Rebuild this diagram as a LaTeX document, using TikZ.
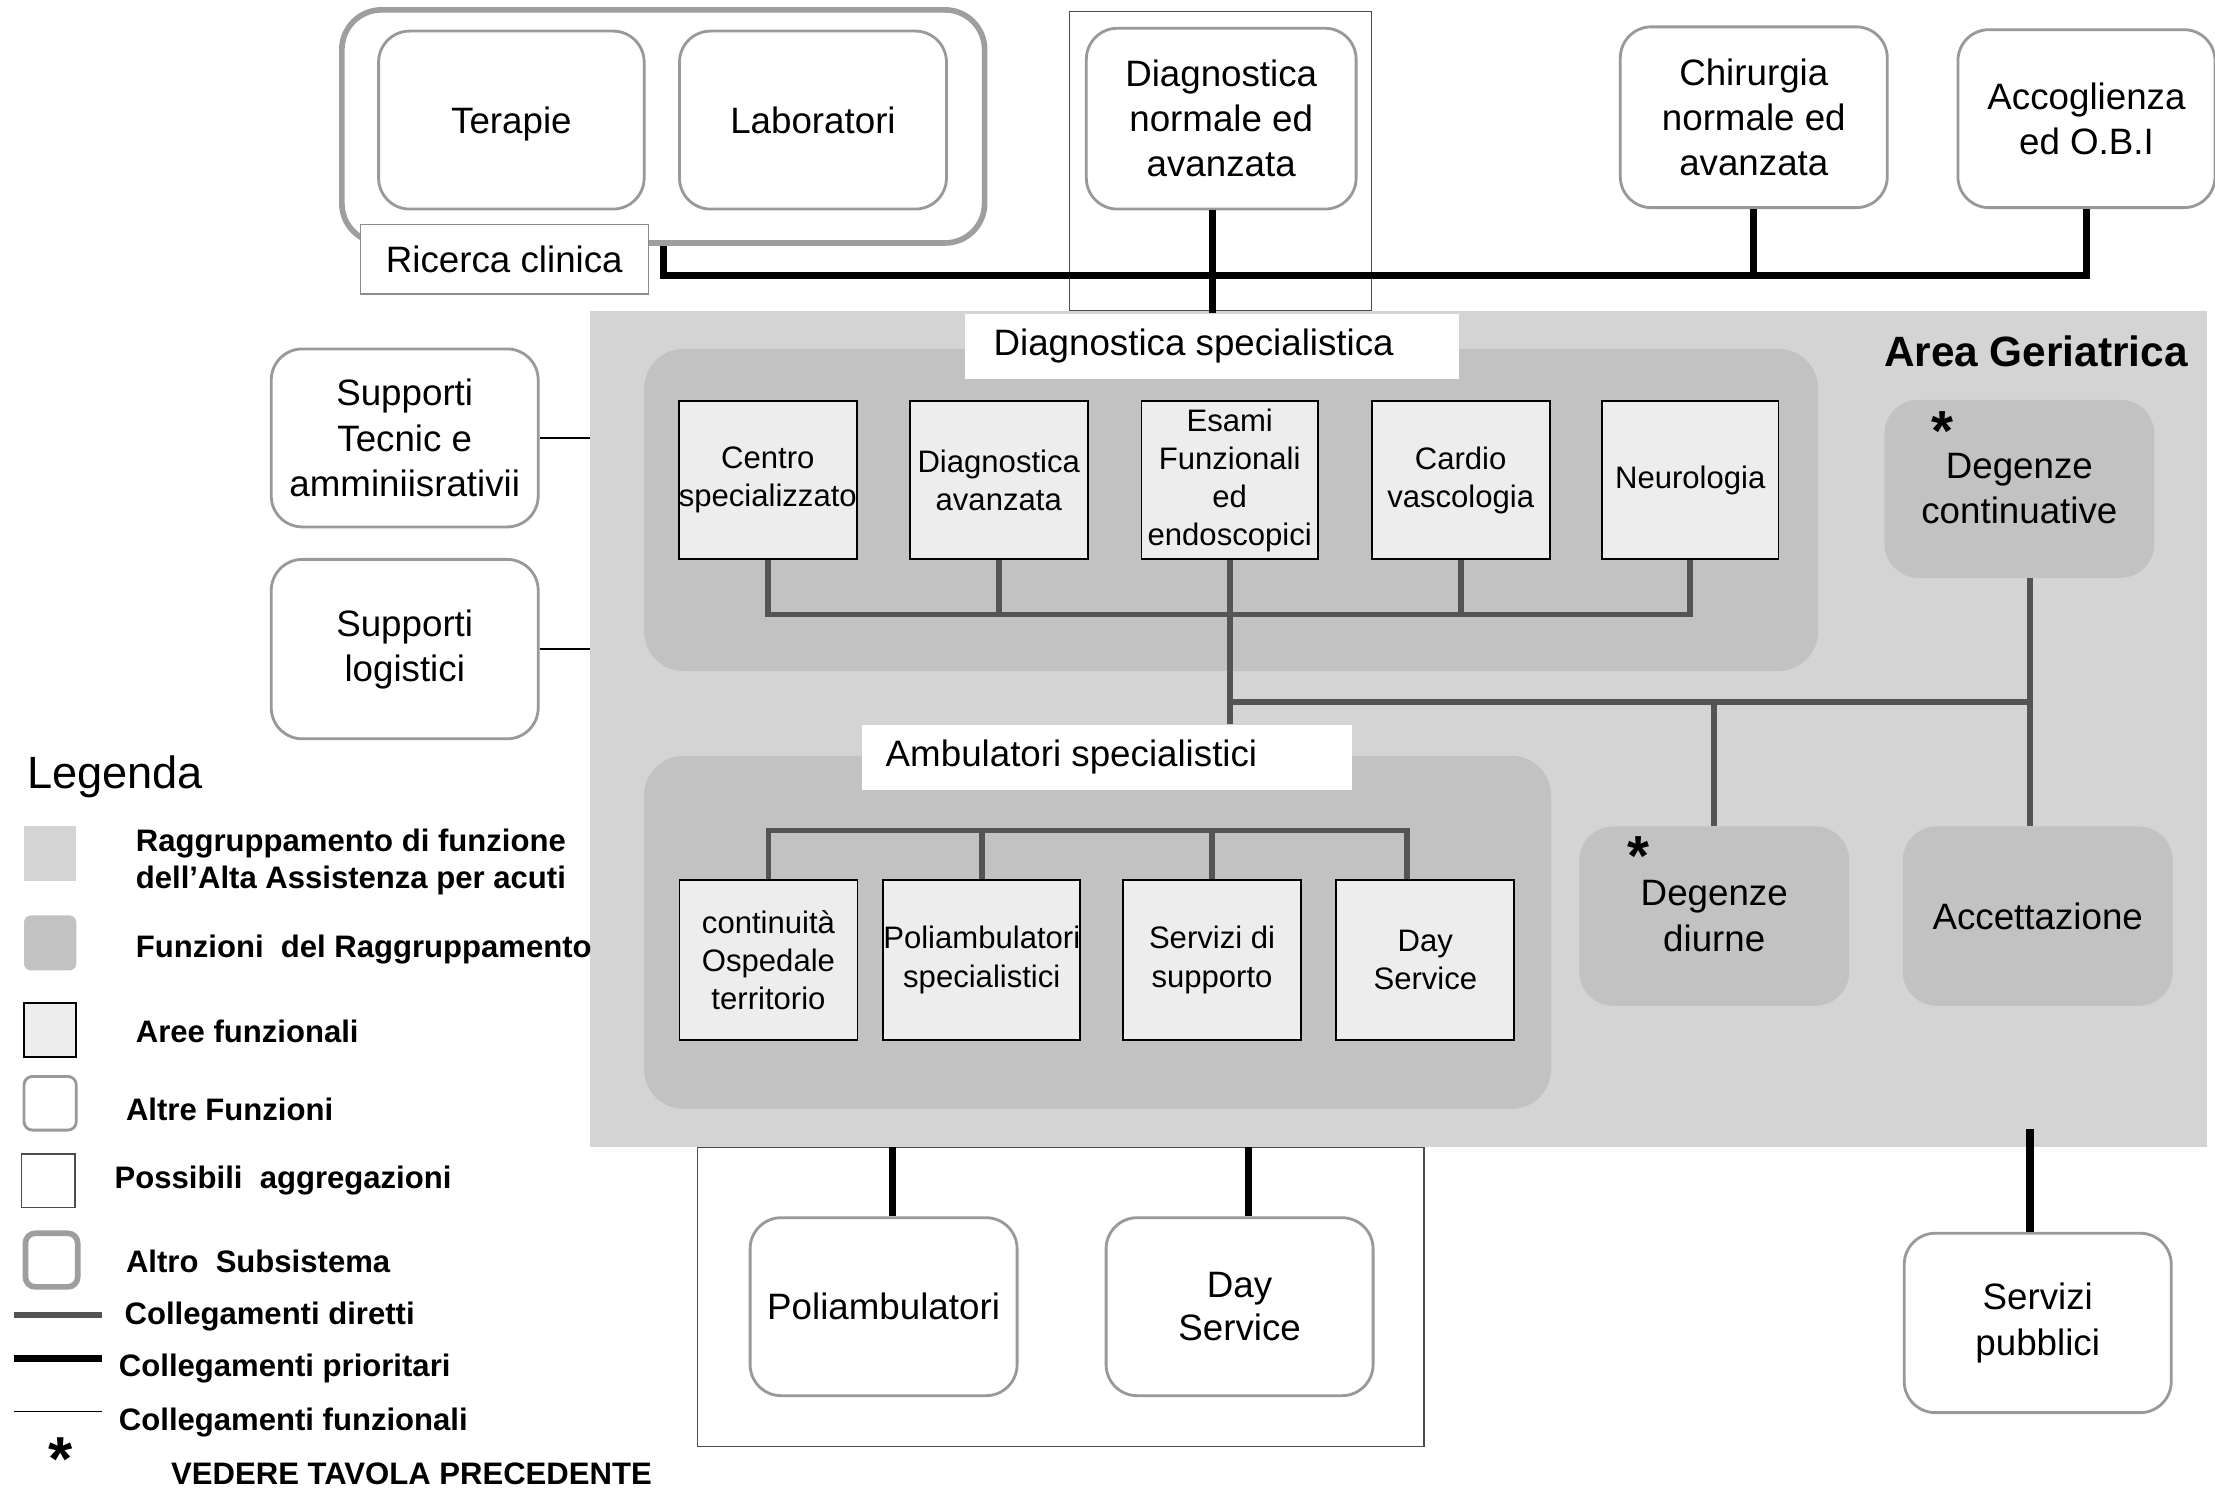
\documentclass[tikz,border=0pt]{standalone}
\usepackage{fontspec}
\setmainfont{Liberation Sans}
\usetikzlibrary{calc}
\definecolor{areabg}{gray}{0.83}
\definecolor{grpbg}{gray}{0.76}
\definecolor{boxbg}{gray}{0.93}
\definecolor{altline}{gray}{0.6}
\definecolor{subline}{gray}{0.62}
\definecolor{dirline}{gray}{0.33}
\tikzset{
  big/.style={font=\fontsize{26}{32}\selectfont, align=center},
  small/.style={font=\fontsize{22}{27}\selectfont, align=center},
  altre/.style={draw=altline, line width=2pt, rounded corners=22pt, fill=white, big, inner sep=0pt},
  subsys/.style={draw=subline, line width=4pt, rounded corners=28pt, inner sep=0pt},
  aree/.style={fill=boxbg, draw=black, line width=1.3pt, small, inner sep=0pt},
  grp/.style={fill=grpbg, rounded corners=28pt, draw=none, inner sep=0pt, big},
  poss/.style={draw=black!70, line width=0.9pt, inner sep=0pt},
  lab/.style={fill=white, big, inner sep=0pt},
  diretti/.style={draw=dirline, line width=4pt},
  prio/.style={draw=black, line width=5pt},
  funz/.style={draw=black, line width=1pt},
  leg/.style={font=\bfseries\fontsize{22}{26}\selectfont, anchor=west, align=left, inner sep=0pt},
  star/.style={font=\bfseries\fontsize{40}{40}\selectfont, inner sep=0pt, anchor=base},
}
\begin{document}
\begin{tikzpicture}[x=1pt,y=-1pt]
\useasboundingbox (0,0) rectangle (1568,1055);

% ---------- possible aggregations (thin rectangles) ----------
\node[poss, minimum width=214pt, minimum height=212pt] (poss1) at (864,114) {};
\node[poss, minimum width=514pt, minimum height=212pt] (poss2) at (751,918) {};

% ---------- Area Geriatrica ----------
\node[fill=areabg, minimum width=1144pt, minimum height=592pt, inner sep=0pt] (area) at (990,516) {};
\node[font=\bfseries\fontsize{30}{30}\selectfont, anchor=east, inner sep=0pt] (areat) at (1549,249) {Area Geriatrica};

% groups
\node[grp, minimum width=831pt, minimum height=228pt] (grpD) at (871.5,361) {};
\node[grp, minimum width=642pt, minimum height=250pt] (grpA) at (777,660) {};
\node[grp, rounded corners=24pt, minimum width=191pt, minimum height=126pt] (degc) at (1429.5,346) {Degenze\\continuative};
\node[grp, rounded corners=24pt, minimum width=191pt, minimum height=127pt] (degd) at (1213.5,648.5) {Degenze\\diurne};
\node[grp, rounded corners=24pt, minimum width=191pt, minimum height=127pt] (acc) at (1442.5,648.5) {Accettazione};
\node[star] (stc) at (1375,319) {*};
\node[star] (std) at (1160,620) {*};

% labels
\node[lab, minimum width=350pt, minimum height=46pt] (dsl) at (858,245) {Diagnostica specialistica\hspace{26pt}};
\node[lab, minimum width=347pt, minimum height=46pt] (aml) at (783.5,536) {Ambulatori specialistici\hspace{50pt}};

% ---------- connector reference points ----------
\coordinate (busD) at (0,435);
\coordinate (busM) at (0,497);
\coordinate (busA) at (0,588);
\coordinate (dcx) at (1437,0);
\coordinate (dsx) at (996,0);
\coordinate (busL) at (469.5,195);

% ---------- functional areas (diagnostica) ----------
\node[aree, minimum width=125pt, minimum height=112pt] (cs) at (543.5,340) {Centro\\specializzato};
\node[aree, minimum width=126pt, minimum height=112pt] (dav) at (707,340) {Diagnostica\\avanzata};
\node[aree, minimum width=125pt, minimum height=112pt] (esa) at (870.5,340) {Esami\\Funzionali\\ed\\endoscopici};
\node[aree, minimum width=126pt, minimum height=112pt] (car) at (1034,340) {Cardio\\vascologia};
\node[aree, minimum width=125pt, minimum height=112pt] (neu) at (1196.5,340) {Neurologia};

% ---------- functional areas (ambulatori) ----------
\node[aree, minimum width=126pt, minimum height=113pt] (cot) at (544,679.5) {continuità\\Ospedale\\territorio};
\node[aree, minimum width=126pt, minimum height=113pt] (pol) at (695,679.5) {Poliambulatori\\specialistici};
\node[aree, minimum width=126pt, minimum height=113pt] (ser) at (858,679.5) {Servizi di\\supporto};
\node[aree, minimum width=126pt, minimum height=113pt] (ds) at (1009,679.5) {Day\\Service};

\draw[diretti] (cs.south) |- (neu.south |- busD) -- (neu.south);
\draw[diretti] (dav.south) -- (dav.south |- busD);
\draw[diretti] (car.south) -- (car.south |- busD);
\draw[diretti] (esa.south) -- (esa.south |- aml.north);
\draw[diretti] (esa.south |- busM) -- (dcx |- busM);
\draw[diretti] (dcx |- degc.south) -- (dcx |- acc.north);
\draw[diretti] (degd.north) -- (degd.north |- busM);
\draw[diretti] (cot.north) |- (dsx |- busA) -- (dsx |- ds.north);
\draw[diretti] (pol.north) -- (pol.north |- busA);
\draw[diretti] (ser.north) -- (ser.north |- busA);

% ---------- top: other subsystem and other functions ----------
\node[subsys, minimum width=455pt, minimum height=165pt] (sub) at (469.5,89.5) {};
\node[altre, minimum width=188pt, minimum height=126pt, text height=19pt, text depth=0pt] (ter) at (362,85) {Terapie};
\node[altre, minimum width=189pt, minimum height=126pt, text height=19pt, text depth=0pt] (lab) at (575.5,85) {Laboratori};
\node[draw=black!45, line width=1pt, fill=white, big, inner sep=0pt, minimum width=204pt, minimum height=49pt] (ric) at (357,183.5) {Ricerca clinica};
\node[altre, minimum width=191pt, minimum height=128pt] (dn) at (864.5,84) {Diagnostica\\normale ed\\avanzata};
\node[altre, minimum width=189pt, minimum height=128pt] (chir) at (1241.5,83) {Chirurgia\\normale ed\\avanzata};
\node[altre, minimum width=182pt, minimum height=126pt] (acco) at (1477,84) {Accoglienza\\ed O.B.I};

\draw[prio] (sub.south) -- (busL) -| (acco.south);
\draw[prio] (chir.south) -- (chir.south |- busL);
\draw[prio] (dsl.north) -- (dsl.north |- dn.south);

% ---------- left supports ----------
\node[altre, minimum width=189pt, minimum height=126pt] (sup1) at (286.5,310) {Supporti\\Tecnic e\\amminiisrativii};
\node[altre, minimum width=189pt, minimum height=127pt] (sup2) at (286.5,459.5) {Supporti\\logistici};
\draw[funz] (sup1.east) -- (sup1.east -| area.west);
\draw[funz] (sup2.east) -- (sup2.east -| area.west);

% ---------- bottom ----------
\node[altre, minimum width=189pt, minimum height=126pt] (pb) at (625.5,925) {Poliambulatori};
\node[altre, minimum width=189pt, minimum height=126pt, font=\fontsize{26}{30}\selectfont] (dsb) at (877.5,925) {Day\\Service};
\node[altre, minimum width=189pt, minimum height=127pt] (sp) at (1442.5,936.5) {Servizi\\pubblici};
\coordinate (pbx) at ($(pb.north)+(6.5,0)$);
\coordinate (dsbx) at ($(dsb.north)+(6.5,0)$);
\coordinate (spx) at ($(sp.north)+(-5.5,0)$);
\draw[prio] (pbx) -- (pbx |- area.south);
\draw[prio] (dsbx) -- (dsbx |- area.south);
\draw[prio] (spx) -- ++(0,-73);

% ---------- legend ----------
\node[font=\fontsize{32}{32}\selectfont, anchor=west, inner sep=0pt] (legt) at (19,550) {Legenda};
\node[fill=areabg, minimum width=37pt, minimum height=39pt, inner sep=0pt] (l1) at (35.5,604.5) {};
\node[leg] (t1) at (96,610) {Raggruppamento di funzione\\dell’Alta Assistenza per acuti};
\node[fill=grpbg, rounded corners=5pt, minimum width=37pt, minimum height=39pt, inner sep=0pt] (l2) at (35.5,667.5) {};
\node[leg] (t2) at (96,672) {Funzioni\ \ del Raggruppamento};
\node[fill=boxbg, draw=black, line width=1.3pt, minimum width=37pt, minimum height=38pt, inner sep=0pt] (l3) at (35.5,729) {};
\node[leg] (t3) at (96,730) {Aree funzionali};
\node[draw=altline, line width=2pt, rounded corners=6pt, minimum width=37pt, minimum height=38pt, inner sep=0pt] (l4) at (35.5,781) {};
\node[leg] (t4) at (89,785) {Altre Funzioni};
\node[poss, minimum width=38pt, minimum height=38pt] (l5) at (34,836) {};
\node[leg] (t5) at (81,836) {Possibili\ \ aggregazioni};
\node[draw=subline, line width=4pt, rounded corners=7pt, minimum width=37pt, minimum height=38pt, inner sep=0pt] (l6) at (36.5,892) {};
\node[leg] (t6) at (89,893) {Altro\ \ Subsistema};
\coordinate (l7a) at (10,931); \coordinate (l7b) at (72,931);
\draw[diretti] (l7a) -- (l7b);
\node[leg] (t7) at (88,932) {Collegamenti diretti};
\coordinate (l8a) at (10,962); \coordinate (l8b) at (72,962);
\draw[prio] (l8a) -- (l8b);
\node[leg] (t8) at (84,969) {Collegamenti prioritari};
\coordinate (l9a) at (10,999); \coordinate (l9b) at (72,999);
\draw[funz] (l9a) -- (l9b);
\node[leg] (t9) at (84,1007) {Collegamenti funzionali};
\node[star, font=\bfseries\fontsize{44}{44}\selectfont] (l10) at (43,1048) {*};
\node[leg] (t10) at (121,1043) {VEDERE TAVOLA PRECEDENTE};
\end{tikzpicture}
\end{document}
